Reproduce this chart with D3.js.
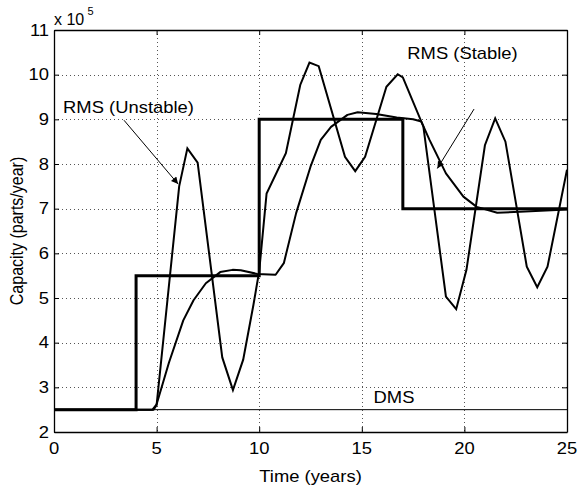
<!DOCTYPE html>
<html>
<head>
<meta charset="utf-8">
<script src="https://cdn.jsdelivr.net/npm/d3@7"></script>
<style>
  html, body { margin: 0; padding: 0; background: #fff; }
  svg { display: block; }
  text { font-family: "Liberation Sans", Arial, Helvetica, sans-serif; fill: #000; }
</style>
</head>
<body>
<svg id="chart" width="578" height="489"></svg>
<script>
// ---- data (capacity in units of 1e5 parts/year) ----
const xTicks = [0, 5, 10, 15, 20, 25];
const yTicks = [2, 3, 4, 5, 6, 7, 8, 9, 10, 11];

const stepTime = [0, 4, 4, 10, 10, 17, 17, 25];
const stepCap  = [2.5, 2.5, 5.5, 5.5, 9, 9, 7, 7];

const dmsTime = [0, 25];
const dmsCap  = [2.5, 2.5];

const unstableTime = [0, 4.85, 5.0, 6.1, 6.5, 7.0, 8.2, 8.72, 9.22, 9.72, 10.0, 10.36, 11.3, 12.0, 12.45, 12.9, 14.18, 14.68, 15.16, 16.2, 16.75, 17.0, 18.0, 19.1, 19.6, 20.1, 21.0, 21.5, 22.0, 23.04, 23.55, 24.05, 25];
const unstableCap  = [2.5, 2.5, 2.6, 7.5, 8.35, 8.03, 3.67, 2.94, 3.62, 4.85, 5.6, 7.34, 8.24, 9.77, 10.27, 10.19, 8.16, 7.84, 8.16, 9.73, 10.01, 9.94, 8.84, 5.03, 4.75, 5.63, 8.42, 9.02, 8.5, 5.7, 5.24, 5.7, 7.87];

const stableTime = [0, 4.8, 5.0, 5.6, 6.3, 6.8, 7.4, 8.1, 8.7, 9.1, 9.9, 10.8, 11.2, 11.8, 12.5, 13.0, 13.5, 14.3, 14.8, 15.7, 16.7, 17.5, 17.9, 18.3, 19.1, 19.95, 20.6, 21.6, 22.7, 25];
const stableCap  = [2.5, 2.5, 2.62, 3.55, 4.5, 4.95, 5.33, 5.58, 5.63, 5.62, 5.54, 5.52, 5.78, 6.9, 7.94, 8.54, 8.83, 9.1, 9.16, 9.12, 9.04, 9.0, 8.95, 8.54, 7.79, 7.27, 7.04, 6.91, 6.93, 6.98];

const labels = ["RMS (Unstable)", "RMS (Stable)", "DMS"];
const xTitle = "Time (years)";
const yTitle = "Capacity (parts/year)";

// ---- layout ----
const L = 54, R = 567, T = 30, B = 432;
const SX = 1.15; // horizontal stretch of the original's text
const FS = 16;

const svg = d3.select("#chart");
svg.append("rect").attr("width", 578).attr("height", 489).attr("fill", "#fff");

const x = d3.scaleLinear().domain([0, 25]).range([L, R]);
const y = d3.scaleLinear().domain([2, 11]).range([B, T]);

// grid
const grid = svg.append("g");
grid.selectAll(".gx").data(xTicks.slice(1, -1)).join("line")
  .attr("x1", d => Math.round(x(d)) + 0.5).attr("x2", d => Math.round(x(d)) + 0.5)
  .attr("y1", T).attr("y2", B)
  .attr("stroke", "#555").attr("stroke-width", 1).attr("stroke-dasharray", "1,3");
grid.selectAll(".gy").data(yTicks.slice(1, -1)).join("line")
  .attr("y1", d => Math.round(y(d)) + 0.5).attr("y2", d => Math.round(y(d)) + 0.5)
  .attr("x1", L).attr("x2", R)
  .attr("stroke", "#555").attr("stroke-width", 1).attr("stroke-dasharray", "1,3");

// axes with inward ticks, all four sides
const tickLen = 5;
const axB = svg.append("g").attr("transform", `translate(0,${B})`)
  .call(d3.axisBottom(x).tickValues(xTicks).tickSizeInner(-tickLen).tickSizeOuter(0).tickFormat(""));
const axT = svg.append("g").attr("transform", `translate(0,${T})`)
  .call(d3.axisTop(x).tickValues(xTicks).tickSizeInner(-tickLen).tickSizeOuter(0).tickFormat(""));
const axL = svg.append("g").attr("transform", `translate(${L},0)`)
  .call(d3.axisLeft(y).tickValues(yTicks).tickSizeInner(-tickLen).tickSizeOuter(0).tickFormat(""));
const axR = svg.append("g").attr("transform", `translate(${R},0)`)
  .call(d3.axisRight(y).tickValues(yTicks).tickSizeInner(-tickLen).tickSizeOuter(0).tickFormat(""));
[axB, axT, axL, axR].forEach(a => {
  a.selectAll("path.domain").attr("stroke", "#000").attr("stroke-width", 1.3);
  a.selectAll(".tick line").attr("stroke", "#000");
});

function stext(px, py, str, anchor, size, rot, sx) {
  const s = sx === undefined ? SX : sx;
  const t = svg.append("text")
    .attr("transform", `translate(${px},${py}) scale(${s},1)` + (rot ? ` rotate(${rot})` : ""))
    .attr("text-anchor", anchor || "start")
    .attr("font-size", size || FS)
    .text(str);
  return t;
}

// tick labels
xTicks.forEach(d => stext(x(d), 453.5, String(d), "middle"));
yTicks.forEach(d => stext(49, y(d) + 5.8, String(d), "end"));

// exponent
stext(54, 25, "x 10", "start", FS, 0, 1.0);
stext(87.5, 15, "5", "start", 11, 0, 1.0);

// titles
stext((L + R) / 2, 482, xTitle, "middle");
stext(22.5, (T + B) / 2, yTitle, "middle", FS, -90);

// lines
const line = d3.line().x(d => x(d[0])).y(d => y(d[1]));
const zip = (a, b) => a.map((v, i) => [v, b[i]]);

svg.append("path").datum(zip(dmsTime, dmsCap)).attr("d", line)
  .attr("fill", "none").attr("stroke", "#000").attr("stroke-width", 1);
svg.append("path").datum(zip(stableTime, stableCap)).attr("d", line)
  .attr("fill", "none").attr("stroke", "#000").attr("stroke-width", 2).attr("stroke-linejoin", "round");
svg.append("path").datum(zip(unstableTime, unstableCap)).attr("d", line)
  .attr("fill", "none").attr("stroke", "#000").attr("stroke-width", 2).attr("stroke-linejoin", "miter");
svg.append("path").datum(zip(stepTime, stepCap)).attr("d", line)
  .attr("fill", "none").attr("stroke", "#000").attr("stroke-width", 3).attr("stroke-linejoin", "miter");

// annotations
svg.append("defs").append("marker")
  .attr("id", "arr").attr("viewBox", "0 0 10 10").attr("refX", 10).attr("refY", 5)
  .attr("markerWidth", 9).attr("markerHeight", 7).attr("markerUnits", "userSpaceOnUse")
  .attr("orient", "auto")
  .append("path").attr("d", "M0,0 L10,5 L0,10 z").attr("fill", "#000");

const arrows = [
  { from: [3.41, 8.98], to: [6.05, 7.55] },
  { from: [20.47, 9.23], to: [18.68, 7.9] }
];
arrows.forEach(a => {
  svg.append("line")
    .attr("x1", x(a.from[0])).attr("y1", y(a.from[1]))
    .attr("x2", x(a.to[0])).attr("y2", y(a.to[1]))
    .attr("stroke", "#000").attr("stroke-width", 1)
    .attr("marker-end", "url(#arr)");
});

stext(128.5, 113.3, labels[0], "middle");
stext(462.5, 59.3, labels[1], "middle");
stext(394, 403, labels[2], "middle");
</script>
</body>
</html>
